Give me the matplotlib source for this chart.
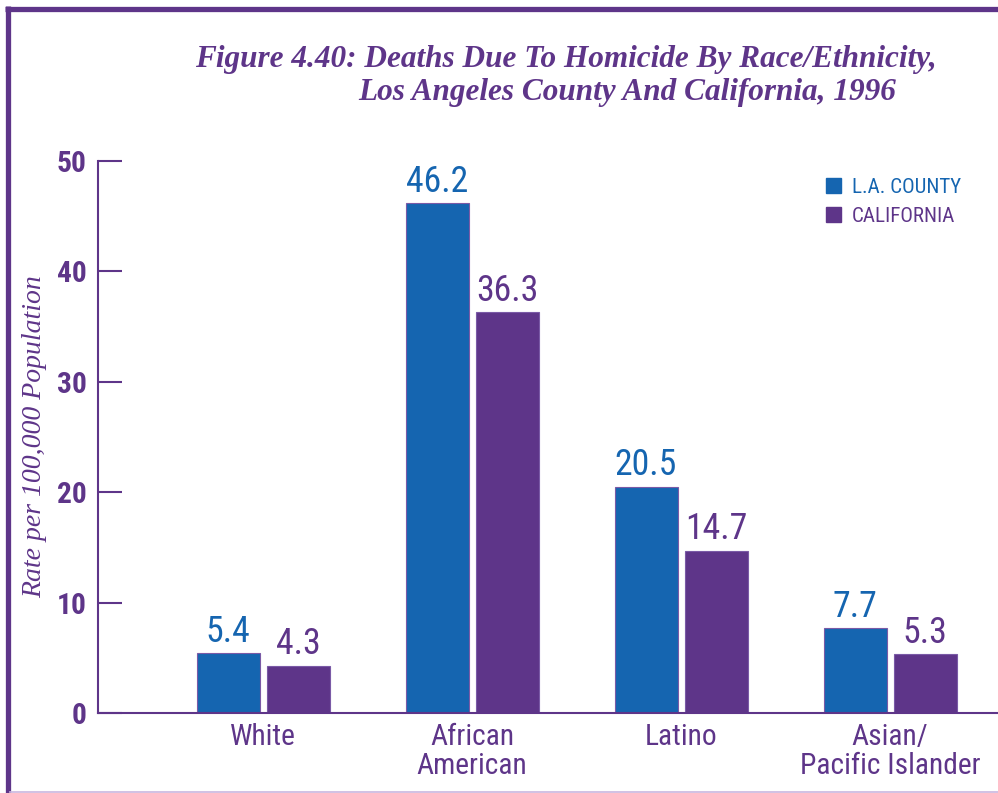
import matplotlib
matplotlib.use('Agg')
import matplotlib.pyplot as plt
from matplotlib import font_manager
import numpy as np
from matplotlib.lines import Line2D
from matplotlib.patches import Patch

# homicide rates per 100,000, 1996
groups = ['White', 'African\nAmerican', 'Latino', 'Asian/\nPacific Islander']
la_county = [5.4, 46.2, 20.5, 7.7]
california = [4.3, 36.3, 14.7, 5.3]
series_names = ['L.A. COUNTY', 'CALIFORNIA']
y_ticks = [0, 10, 20, 30, 40, 50]

BLUE = '#1565b0'
PURPLE = '#5e3589'
LAVENDER = '#c9b6df'


def narrow_font():
    # prefer a condensed face if one is installed, else Roboto
    for fam, stretch, key in [('Roboto Condensed', 'normal', 'condensed'),
                              ('Liberation Sans Narrow', 'normal', 'narrow'),
                              ('DejaVu Sans', 'condensed', 'condensed'),
                              ('Open Sans', 'condensed', 'condensed')]:
        try:
            path = font_manager.findfont(
                font_manager.FontProperties(family=fam, stretch=stretch),
                fallback_to_default=False)
        except ValueError:
            continue
        if key in path.lower():
            return fam, stretch, True
    return 'Roboto', 'normal', False


cond_family, cond_stretch, is_cond = narrow_font()
scale = 1.12 if is_cond else 1.0

serif = ['Liberation Serif', 'DejaVu Serif']

fig = plt.figure(figsize=(9.98, 7.93), dpi=100)
W, H = 998, 793


def fx(px):
    return px / W


def fy(py):
    return 1 - py / H


# frame round the figure: heavy purple top and left, thin lavender bottom
fig.add_artist(Line2D([fx(5), 1], [fy(8.5), fy(8.5)], color=PURPLE, lw=3.8,
                      solid_capstyle='butt'))
fig.add_artist(Line2D([fx(7.5), fx(7.5)], [fy(6), 0], color=PURPLE, lw=3.8,
                      solid_capstyle='butt'))
fig.add_artist(Line2D([fx(10), 1], [fy(791.5), fy(791.5)], color=LAVENDER, lw=1.2))

ax = fig.add_axes([fx(98), fy(713), 1 - fx(98), fy(161) - fy(713)])

x = np.arange(len(groups))
step = 209.0
width = 63 / step
off = 35 / step

b1 = ax.bar(x - off, la_county, width, color=BLUE, edgecolor='#7a5aa6', linewidth=0.8)
b2 = ax.bar(x + off, california, width, color=PURPLE, edgecolor='#7a5aa6', linewidth=0.8)

for bars, vals, col in [(b1, la_county, BLUE), (b2, california, PURPLE)]:
    for bar, v in zip(bars, vals):
        ax.text(bar.get_x() + bar.get_width() / 2, v + 0.3, f'{v}',
                ha='center', va='bottom', color=col, fontsize=23 * scale,
                family=cond_family, fontstretch=cond_stretch)

ax.set_xlim((98 - 263) / step, (998 - 263) / step)
ax.set_ylim(0, 50)

for side in ['top', 'right']:
    ax.spines[side].set_visible(False)
for side in ['left', 'bottom']:
    ax.spines[side].set_color(PURPLE)
    ax.spines[side].set_linewidth(1.5)

ax.set_yticks(y_ticks)
ax.set_yticklabels([str(t) for t in y_ticks], fontsize=19 * scale, color=PURPLE,
                   fontweight='bold', family=cond_family, fontstretch=cond_stretch)
ax.tick_params(axis='y', direction='in', length=17.5, width=1.5, color=PURPLE, pad=8)
ax.set_xticks(x)
ax.set_xticklabels(groups, fontsize=19 * scale, color=PURPLE, family=cond_family,
                   fontstretch=cond_stretch, linespacing=1.05)
ax.tick_params(axis='x', length=0, pad=7)

fig.text(fx(35), fy(437), 'Rate per 100,000 Population', rotation=90,
         ha='center', va='center', color=PURPLE, fontsize=20,
         style='italic', family=serif)

fig.text(fx(195), fy(67), 'Figure 4.40: Deaths Due To Homicide By Race/Ethnicity,',
         ha='left', va='baseline', color=PURPLE, fontsize=22.5,
         style='italic', fontweight='bold', family=serif)
fig.text(fx(358), fy(100), 'Los Angeles County And California, 1996',
         ha='left', va='baseline', color=PURPLE, fontsize=22.5,
         style='italic', fontweight='bold', family=serif)

handles = [Patch(color=BLUE), Patch(color=PURPLE)]
leg = ax.legend(handles, series_names, loc='upper left',
                bbox_to_anchor=((807 - 98) / 900, 1.004), bbox_transform=ax.transAxes,
                frameon=False, handlelength=0.7, handleheight=0.7,
                handletextpad=0.55, labelspacing=0.5,
                prop={'family': cond_family, 'stretch': cond_stretch,
                      'size': 13.5 * scale})
for txt, col in zip(leg.get_texts(), [BLUE, PURPLE]):
    txt.set_color(col)

fig.savefig('out.png', dpi=100)
